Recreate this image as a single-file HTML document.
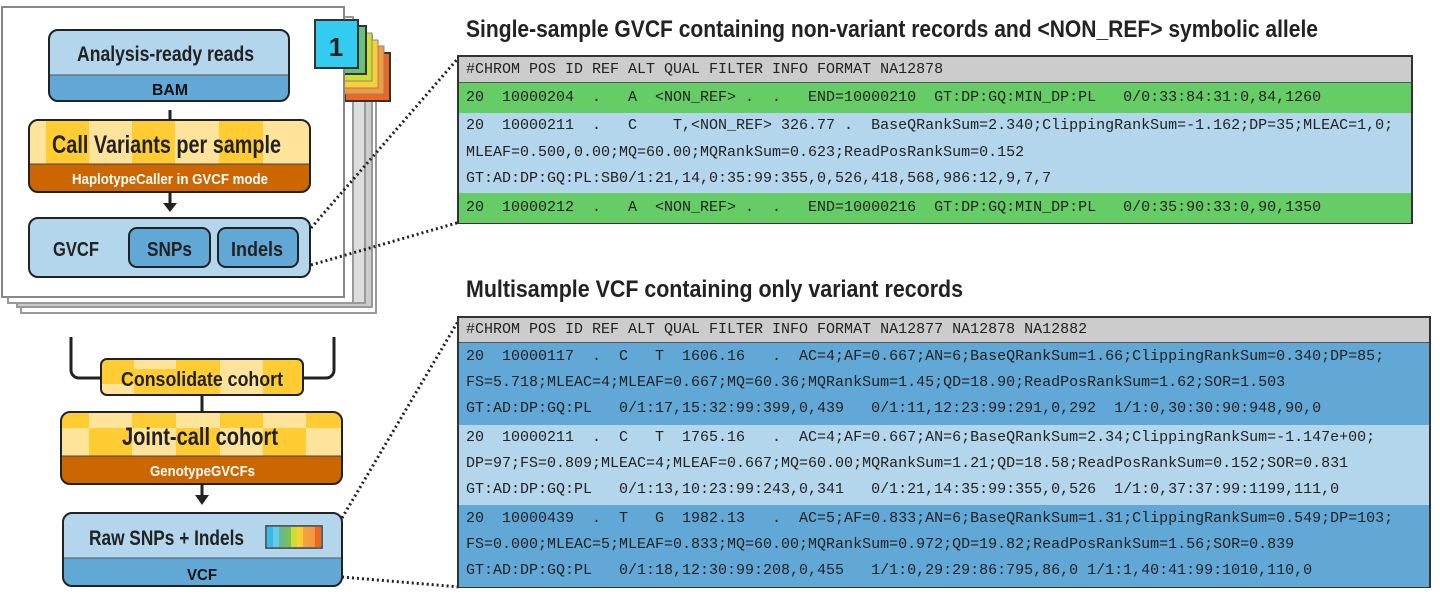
<!DOCTYPE html>
<html><head><meta charset="utf-8"><style>
body{margin:0;width:1440px;height:598px;background:#fff;position:relative;overflow:hidden;font-family:"Liberation Sans",sans-serif}
.box{position:absolute;border:2px solid #333;font-family:"Liberation Mono",monospace;font-size:15px;color:#222;box-sizing:border-box}
.box div{padding-left:7px;line-height:26px;white-space:pre}
.h{background:#ccc;border-bottom:1px solid #555}
</style></head><body>
<svg width="1440" height="598" style="position:absolute;left:0;top:0" font-family="Liberation Sans, sans-serif" font-weight="bold">
<text x="466" y="37" font-size="24" fill="#222" textLength="852" lengthAdjust="spacingAndGlyphs">Single-sample GVCF containing non-variant records and &lt;NON_REF&gt; symbolic allele</text>
<text x="466" y="297" font-size="24" fill="#222" textLength="497" lengthAdjust="spacingAndGlyphs">Multisample VCF containing only variant records</text>
</svg>
<svg width="460" height="598" style="position:absolute;left:0;top:0" font-family="Liberation Sans, sans-serif" font-weight="bold">
<defs>
<clipPath id="c1"><rect x="29" y="120" width="281" height="72" rx="9"/></clipPath>
<clipPath id="c2"><rect x="61" y="412" width="281" height="72" rx="9"/></clipPath>
<clipPath id="c3"><rect x="101" y="359" width="202" height="36" rx="6"/></clipPath>
</defs>
<rect x="21" y="43" width="355" height="270" fill="#fff" stroke="#999" stroke-width="2"/>
<rect x="17" y="35" width="355" height="272" fill="#ccc" stroke="#999" stroke-width="2"/>
<rect x="13" y="27" width="352" height="276" fill="#ddd" stroke="#999" stroke-width="2"/>
<rect x="8" y="17" width="345" height="286" fill="#fff" stroke="#999" stroke-width="2"/>
<rect x="345" y="53" width="45" height="48" fill="#ee6622" stroke="#333" stroke-width="2"/>
<rect x="339" y="46" width="45" height="48" fill="#f59a3a" stroke="#888" stroke-width="1"/>
<rect x="333" y="40" width="45" height="48" fill="#ffcc33" stroke="#888" stroke-width="1"/>
<rect x="327" y="33" width="45" height="48" fill="#cce033" stroke="#888" stroke-width="1"/>
<rect x="321" y="26" width="45" height="48" fill="#66c080" stroke="#333" stroke-width="2"/>
<rect x="2" y="7" width="342" height="290" fill="#fff" stroke="#888" stroke-width="2"/>
<rect x="315" y="20" width="43" height="48" fill="#33ccf0" stroke="#333" stroke-width="2"/>
<text x="336" y="56" font-size="26" text-anchor="middle" fill="#222">1</text>
<rect x="49" y="30" width="240" height="71" rx="9" fill="#b3d6ec"/>
<path d="M50 75 H288 V92 a8 8 0 0 1 -8 8 H58 a8 8 0 0 1 -8 -8Z" fill="#62a8d6"/>
<line x1="50" y1="75" x2="288" y2="75" stroke="#555"/>
<rect x="49" y="30" width="240" height="71" rx="9" fill="none" stroke="#222" stroke-width="2"/>
<text x="77" y="61" font-size="21" fill="#222" textLength="177" lengthAdjust="spacingAndGlyphs">Analysis-ready reads</text>
<text x="152" y="95" font-size="16" fill="#111" textLength="36" lengthAdjust="spacingAndGlyphs">BAM</text>
<line x1="170" y1="110" x2="170" y2="121" stroke="#222" stroke-width="3"/>
<g clip-path="url(#c1)">
<rect x="29" y="120" width="281" height="72" fill="#fee49a"/>
<rect x="46" y="120" width="43" height="44" fill="#ffcc33"/>
<rect x="132" y="120" width="43" height="44" fill="#ffcc33"/>
<rect x="219" y="120" width="44" height="44" fill="#ffcc33"/>
<rect x="29" y="164" width="281" height="28" fill="#cc6600"/>
</g>
<line x1="29" y1="164" x2="310" y2="164" stroke="#444"/>
<rect x="29" y="120" width="281" height="72" rx="9" fill="none" stroke="#222" stroke-width="2"/>
<text x="52" y="153" font-size="25" fill="#222" textLength="229" lengthAdjust="spacingAndGlyphs">Call Variants per sample</text>
<text x="72" y="184" font-size="15" fill="#fff" textLength="196" lengthAdjust="spacingAndGlyphs">HaplotypeCaller in GVCF mode</text>
<line x1="170" y1="192" x2="170" y2="205" stroke="#222" stroke-width="3"/>
<path d="M163 203 L177 203 L170 212Z" fill="#222"/>
<rect x="29" y="218" width="281" height="59" rx="9" fill="#b3d6ec" stroke="#222" stroke-width="2"/>
<text x="53" y="256" font-size="20" fill="#222" textLength="46" lengthAdjust="spacingAndGlyphs">GVCF</text>
<rect x="129" y="228" width="81" height="39" rx="8" fill="#62a8d6" stroke="#222" stroke-width="2"/>
<rect x="218" y="228" width="80" height="39" rx="8" fill="#62a8d6" stroke="#222" stroke-width="2"/>
<text x="147" y="256" font-size="20" fill="#222" textLength="45" lengthAdjust="spacingAndGlyphs">SNPs</text>
<text x="231" y="256" font-size="20" fill="#222" textLength="52" lengthAdjust="spacingAndGlyphs">Indels</text>
<path d="M71 337 V370 a8 8 0 0 0 8 8 H102" fill="none" stroke="#222" stroke-width="3"/>
<path d="M334 337 V370 a8 8 0 0 1 -8 8 H302" fill="none" stroke="#222" stroke-width="3"/>
<g clip-path="url(#c3)">
<rect x="101" y="359" width="202" height="36" fill="#ffcc33"/>
<rect x="101" y="384" width="33" height="11" fill="#fee49a"/>
<rect x="220" y="359" width="43" height="36" fill="#fee49a"/>
<rect x="134" y="359" width="42" height="10" fill="#fee49a"/>
</g>
<rect x="101" y="359" width="202" height="36" rx="6" fill="none" stroke="#222" stroke-width="2"/>
<text x="121" y="386" font-size="20" fill="#222" textLength="162" lengthAdjust="spacingAndGlyphs">Consolidate cohort</text>
<line x1="202" y1="395" x2="202" y2="413" stroke="#222" stroke-width="3"/>
<g clip-path="url(#c2)">
<rect x="61" y="412" width="281" height="72" fill="#fee49a"/>
<rect x="61" y="412" width="28" height="16" fill="#ffcc33"/>
<rect x="132" y="412" width="44" height="16" fill="#ffcc33"/>
<rect x="220" y="412" width="43" height="16" fill="#ffcc33"/>
<rect x="306" y="412" width="36" height="16" fill="#ffcc33"/>
<rect x="89" y="428" width="43" height="28" fill="#ffcc33"/>
<rect x="176" y="428" width="44" height="28" fill="#ffcc33"/>
<rect x="263" y="428" width="43" height="28" fill="#ffcc33"/>
<rect x="61" y="456" width="281" height="28" fill="#cc6600"/>
</g>
<line x1="61" y1="456" x2="342" y2="456" stroke="#444"/>
<rect x="61" y="412" width="281" height="72" rx="9" fill="none" stroke="#222" stroke-width="2"/>
<text x="122" y="445" font-size="25" fill="#222" textLength="156" lengthAdjust="spacingAndGlyphs">Joint-call cohort</text>
<text x="150" y="476" font-size="15" fill="#fff" textLength="105" lengthAdjust="spacingAndGlyphs">GenotypeGVCFs</text>
<line x1="202" y1="484" x2="202" y2="497" stroke="#222" stroke-width="3"/>
<path d="M195 495 L209 495 L202 505Z" fill="#222"/>
<rect x="63" y="513" width="279" height="73" rx="9" fill="#b3d6ec"/>
<path d="M64 558 H341 V577 a8 8 0 0 1 -8 8 H72 a8 8 0 0 1 -8 -8Z" fill="#62a8d6"/>
<line x1="64" y1="558" x2="341" y2="558" stroke="#555"/>
<rect x="63" y="513" width="279" height="73" rx="9" fill="none" stroke="#222" stroke-width="2"/>
<text x="89" y="545" font-size="21" fill="#222" textLength="155" lengthAdjust="spacingAndGlyphs">Raw SNPs + Indels</text>
<text x="187" y="580" font-size="16" fill="#111" textLength="30" lengthAdjust="spacingAndGlyphs">VCF</text>
<rect x="266" y="526" width="56" height="22" fill="#fff"/>
<rect x="267" y="527" width="6" height="20" fill="#33bbee"/><rect x="273" y="527" width="6" height="20" fill="#66ccee"/>
<rect x="279" y="527" width="6" height="20" fill="#66bb88"/><rect x="285" y="527" width="6" height="20" fill="#77c060"/>
<rect x="291" y="527" width="6" height="20" fill="#ccdd33"/><rect x="297" y="527" width="6" height="20" fill="#ffcc33"/>
<rect x="303" y="527" width="6" height="20" fill="#f5a040"/><rect x="309" y="527" width="6" height="20" fill="#f59a3a"/>
<rect x="315" y="527" width="6" height="20" fill="#ee6622"/>
<rect x="266" y="526" width="56" height="22" fill="none" stroke="#333" stroke-width="1.5"/>
<g stroke="#222" stroke-width="3" stroke-dasharray="2 3" fill="none">
<line x1="311" y1="228" x2="460" y2="56"/>
<line x1="311" y1="265" x2="460" y2="222"/>
<line x1="342" y1="518" x2="460" y2="318"/>
<line x1="342" y1="577" x2="460" y2="587"/>
</g>
</svg>

<div class="box" style="left:457px;top:55px;width:956px;height:169px"><div class="h" style="height:25px;line-height:25px">#CHROM POS ID REF ALT QUAL FILTER INFO FORMAT NA12878</div><div style="background:#66cc66;height:30px;line-height:30px">20  10000204  .   A  &lt;NON_REF&gt; .  .   END=10000210  GT:DP:GQ:MIN_DP:PL   0/0:33:84:31:0,84,1260</div><div style="background:#b3d6ec;height:80px;line-height:26.5px">20  10000211  .   C    T,&lt;NON_REF&gt; 326.77 .  BaseQRankSum=2.340;ClippingRankSum=-1.162;DP=35;MLEAC=1,0;
MLEAF=0.500,0.00;MQ=60.00;MQRankSum=0.623;ReadPosRankSum=0.152
GT:AD:DP:GQ:PL:SB0/1:21,14,0:35:99:355,0,526,418,568,986:12,9,7,7</div><div style="background:#66cc66;height:30px;line-height:30px">20  10000212  .   A  &lt;NON_REF&gt; .  .   END=10000216  GT:DP:GQ:MIN_DP:PL   0/0:35:90:33:0,90,1350</div></div>

<div class="box" style="left:457px;top:316px;width:974px;height:272px"><div class="h" style="height:24px;line-height:24px">#CHROM POS ID REF ALT QUAL FILTER INFO FORMAT NA12877 NA12878 NA12882</div><div style="background:#62a8d6;height:82px;line-height:26px;padding-top:1px;box-sizing:border-box">20  10000117  .  C   T  1606.16   .  AC=4;AF=0.667;AN=6;BaseQRankSum=1.66;ClippingRankSum=0.340;DP=85;
FS=5.718;MLEAC=4;MLEAF=0.667;MQ=60.36;MQRankSum=1.45;QD=18.90;ReadPosRankSum=1.62;SOR=1.503
GT:AD:DP:GQ:PL   0/1:17,15:32:99:399,0,439   0/1:11,12:23:99:291,0,292  1/1:0,30:30:90:948,90,0</div><div style="background:#b3d6ec;height:80px;line-height:26px">20  10000211  .  C   T  1765.16   .  AC=4;AF=0.667;AN=6;BaseQRankSum=2.34;ClippingRankSum=-1.147e+00;
DP=97;FS=0.809;MLEAC=4;MLEAF=0.667;MQ=60.00;MQRankSum=1.21;QD=18.58;ReadPosRankSum=0.152;SOR=0.831
GT:AD:DP:GQ:PL   0/1:13,10:23:99:243,0,341   0/1:21,14:35:99:355,0,526  1/1:0,37:37:99:1199,111,0</div><div style="background:#62a8d6;height:82px;line-height:26px;padding-top:1px;box-sizing:border-box">20  10000439  .  T   G  1982.13   .  AC=5;AF=0.833;AN=6;BaseQRankSum=1.31;ClippingRankSum=0.549;DP=103;
FS=0.000;MLEAC=5;MLEAF=0.833;MQ=60.00;MQRankSum=0.972;QD=19.82;ReadPosRankSum=1.56;SOR=0.839
GT:AD:DP:GQ:PL   0/1:18,12:30:99:208,0,455   1/1:0,29:29:86:795,86,0 1/1:1,40:41:99:1010,110,0</div></div>
</body></html>
